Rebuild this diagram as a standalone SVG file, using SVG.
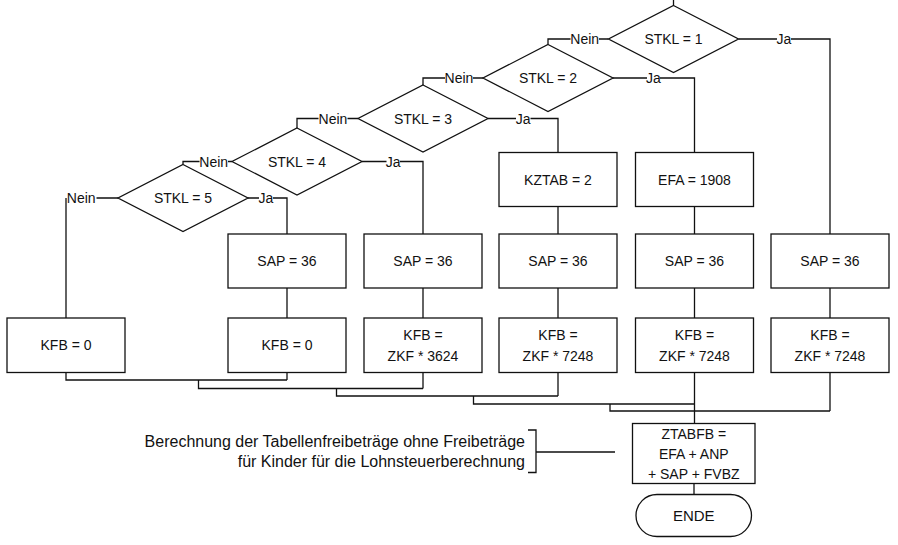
<svg xmlns="http://www.w3.org/2000/svg" width="898" height="545" viewBox="0 0 898 545">
<style>
.s{fill:#fff;stroke:#111;stroke-width:1.3}
.c{fill:none;stroke:#111;stroke-width:1.3}
text{font-family:"Liberation Sans",Arial,sans-serif;font-size:14px;fill:#111;text-anchor:middle;dominant-baseline:central}
.a{font-size:16px;text-anchor:end;dominant-baseline:auto}
.e{font-size:15px}
</style>
<rect width="898" height="545" fill="#fff"/>
<g id="connectors">
<path class="c" d="M673.5,0 V5.5"/>
<path class="c" d="M738.5,39 H777 M791,39 H830 V234"/>
<path class="c" d="M608.5,39 H599 M570.5,39 H548 V44.5"/>
<path class="c" d="M613,78 H647 M660,78 H694.5 V152.5"/>
<path class="c" d="M483,78 H473 M445,78 H423 V85"/>
<path class="c" d="M488,118.5 H516 M530.5,118.5 H558 V152.5"/>
<path class="c" d="M358,118.5 H347.5 M318.5,118.5 H297 V128"/>
<path class="c" d="M362,161.5 H386.5 M400,161.5 H423 V234"/>
<path class="c" d="M232,161.5 H228 M199.5,161.5 H183 V164.5"/>
<path class="c" d="M248,198 H259 M273,198 H287 V234"/>
<path class="c" d="M118,198 H96.5 M66,198 V318"/>
<path class="c" d="M287,288 V318 M423,288 V318 M558,206.5 V234 M558,288 V318 M694.5,206.5 V234 M694.5,288 V318 M830,288 V318"/>
<path class="c" d="M66,372.5 V380 H287 M287,372.5 V380"/>
<path class="c" d="M198.5,380 V388.5 H423 M423,372.5 V388.5"/>
<path class="c" d="M336.5,388.5 V396 H558 M558,372.5 V396"/>
<path class="c" d="M473.5,396 V404 H694.5 M694.5,372.5 V423.5"/>
<path class="c" d="M610,404 V411 H830 M830,372.5 V411"/>
<path class="c" d="M694,483.5 V494.5"/>
<path class="c" d="M528,430 H536 V472.5 H528 M536,452 H615"/>
<text x="784" y="39">Ja</text>
<text x="653.5" y="78">Ja</text>
<text x="523.25" y="118.5">Ja</text>
<text x="393.25" y="161.5">Ja</text>
<text x="266" y="198">Ja</text>
<text x="584.75" y="39">Nein</text>
<text x="459" y="78">Nein</text>
<text x="333" y="118.5">Nein</text>
<text x="213.75" y="161.5">Nein</text>
<text x="81.25" y="198">Nein</text>
</g>
<g id="d1"><polygon class="s" points="673.5,5.5 738.5,39 673.5,72.5 608.5,39"/><text x="673.5" y="39">STKL = 1</text></g>
<g id="d2"><polygon class="s" points="548,44.5 613,78 548,111.5 483,78"/><text x="548" y="78">STKL = 2</text></g>
<g id="d3"><polygon class="s" points="423,85 488,118.5 423,152 358,118.5"/><text x="423" y="118.5">STKL = 3</text></g>
<g id="d4"><polygon class="s" points="297,128 362,161.5 297,195 232,161.5"/><text x="297" y="161.5">STKL = 4</text></g>
<g id="d5"><polygon class="s" points="183,164.5 248,198 183,231.5 118,198"/><text x="183" y="198">STKL = 5</text></g>
<g id="kztab"><rect class="s" x="499" y="152.5" width="118" height="54"/><text x="558" y="179.5">KZTAB = 2</text></g>
<g id="efa"><rect class="s" x="635.5" y="152.5" width="118" height="54"/><text x="694.5" y="179.5">EFA = 1908</text></g>
<g id="sap2"><rect class="s" x="228" y="234" width="118" height="54"/><text x="287" y="261">SAP = 36</text></g>
<g id="sap3"><rect class="s" x="364" y="234" width="118" height="54"/><text x="423" y="261">SAP = 36</text></g>
<g id="sap4"><rect class="s" x="499" y="234" width="118" height="54"/><text x="558" y="261">SAP = 36</text></g>
<g id="sap5"><rect class="s" x="635.5" y="234" width="118" height="54"/><text x="694.5" y="261">SAP = 36</text></g>
<g id="sap6"><rect class="s" x="771" y="234" width="118" height="54"/><text x="830" y="261">SAP = 36</text></g>
<g id="kfb1"><rect class="s" x="7" y="318" width="118" height="54.5"/><text x="66" y="345.25">KFB = 0</text></g>
<g id="kfb2"><rect class="s" x="228" y="318" width="118" height="54.5"/><text x="287" y="345.25">KFB = 0</text></g>
<g id="kfb3"><rect class="s" x="364" y="318" width="118" height="54.5"/><text x="423" y="334.5">KFB =</text><text x="423" y="355.5">ZKF * 3624</text></g>
<g id="kfb4"><rect class="s" x="499" y="318" width="118" height="54.5"/><text x="558" y="334.5">KFB =</text><text x="558" y="355.5">ZKF * 7248</text></g>
<g id="kfb5"><rect class="s" x="635.5" y="318" width="118" height="54.5"/><text x="694.5" y="334.5">KFB =</text><text x="694.5" y="355.5">ZKF * 7248</text></g>
<g id="kfb6"><rect class="s" x="771" y="318" width="118" height="54.5"/><text x="830" y="334.5">KFB =</text><text x="830" y="355.5">ZKF * 7248</text></g>
<g id="ztabfb"><rect class="s" x="632.5" y="423.5" width="122.5" height="60"/><text x="693.75" y="433.5">ZTABFB =</text><text x="693.75" y="453.5">EFA + ANP</text><text x="693.75" y="473.5">+ SAP + FVBZ</text></g>
<g id="ende"><rect class="s" x="636" y="494.5" width="115.5" height="42" rx="21" ry="21"/><text class="e" x="693.75" y="515.5">ENDE</text></g>
<g id="note"><text class="a" x="525" y="446.5">Berechnung der Tabellenfreibeträge ohne Freibeträge</text><text class="a" x="525" y="466.5">für Kinder für die Lohnsteuerberechnung</text></g>
</svg>
